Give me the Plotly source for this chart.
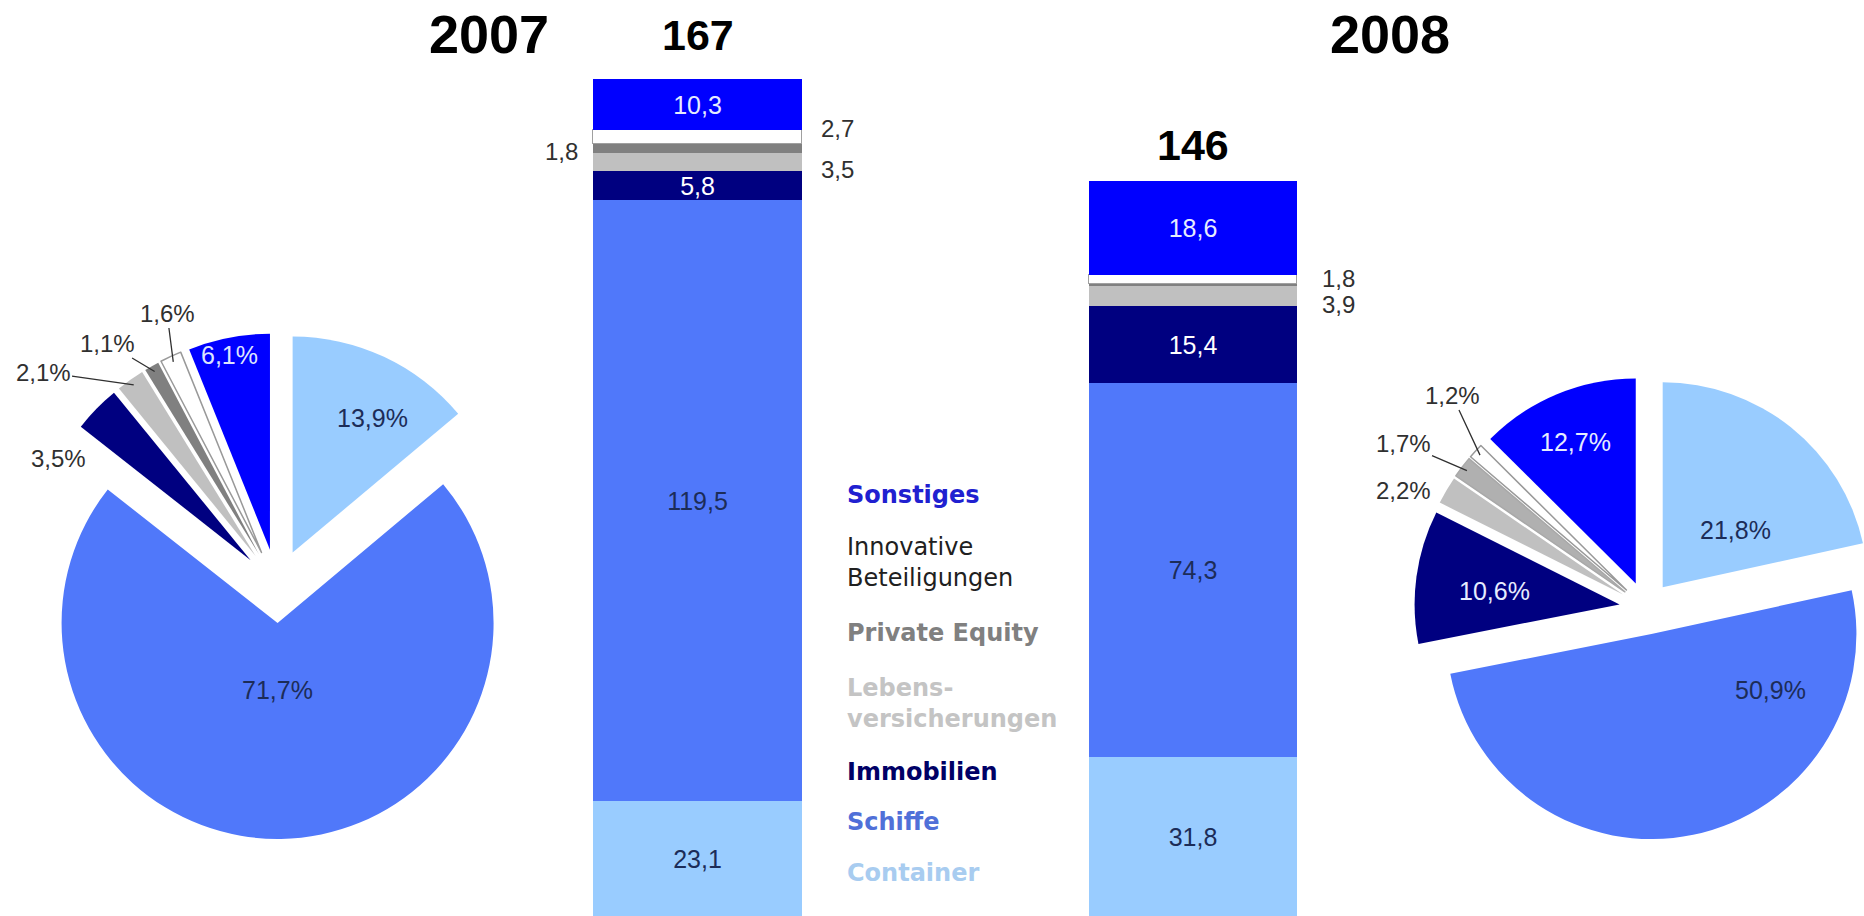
import math
import plotly.graph_objects as go

# ---------------- data ----------------
years = ["2007", "2008"]
categories = ["Container", "Schiffe", "Immobilien", "Lebensversicherungen",
              "Private Equity", "Innovative Beteiligungen", "Sonstiges"]
legend_labels = ["Container", "Schiffe", "Immobilien", "Lebens-<br>versicherungen",
                 "Private Equity", "Innovative<br>Beteiligungen", "Sonstiges"]
# volumes (bar values) per category, [2007, 2008]
vol_container = [23.1, 31.8]
vol_schiffe = [119.5, 74.3]
vol_immobilien = [5.8, 15.4]
vol_leben = [3.5, 3.9]
vol_pe = [1.8, 0.5]
vol_innov = [2.7, 1.8]
vol_sonstiges = [10.3, 18.6]
totals = [167, 146]
# shares (pie values) in percent
share_2007 = [13.9, 71.7, 3.5, 2.1, 1.1, 1.6, 6.1]
share_2008 = [21.8, 50.9, 10.6, 2.2, 1.7, 1.2, 12.7]

# ---------------- style ----------------
colors = ["#99CCFF", "#5078FA", "#000080", "#C0C0C0", "#808080", "#FFFFFF", "#0000FF"]
colors_2008_pie = ["#99CCFF", "#5078FA", "#000080", "#C0C0C0", "#B0B0B0", "#FFFFFF", "#0000FF"]
legend_colors = ["#A8CCF0", "#5070D8", "#000066", "#C4C4C4", "#808080", "#202020", "#2020D0"]
legend_bold = [True, True, True, True, True, False, True]
bar_text_colors = ["#1C2C58", "#1C2C58", "#FFFFFF", None, None, None, "#E6ECFF"]
FONT = "Liberation Sans, Arial, sans-serif"
LFONT = "DejaVu Sans, Verdana, sans-serif"
W, H = 1900, 916

# bar geometry (pixels)
bar_centers_px = [697.5, 1193.0]
bar_width_px = 208.5
px_per_cat = bar_centers_px[1] - bar_centers_px[0]
x0 = -bar_centers_px[0] / px_per_cat
x1 = (W - bar_centers_px[0]) / px_per_cat
px_per_unit = 5.03
y_base_px = 917.0
ylo = (y_base_px - H) / px_per_unit
yhi = ylo + H / px_per_unit

fig = go.Figure()

series = [vol_container, vol_schiffe, vol_immobilien, vol_leben, vol_pe, vol_innov, vol_sonstiges]
for i, (name, vals) in enumerate(zip(categories, series)):
    labelled = bar_text_colors[i] is not None
    fig.add_trace(go.Bar(
        x=[0, 1], y=vals, name=name,
        width=bar_width_px / px_per_cat,
        marker=dict(color=colors[i],
                    line=dict(color="#A0A0A0" if colors[i] == "#FFFFFF" else colors[i],
                              width=1.5 if colors[i] == "#FFFFFF" else 0)),
        texttemplate="%{y:.1f}" if labelled else None,
        textposition="inside" if labelled else "none",
        insidetextanchor="middle",
        textangle=0,
        constraintext="none",
        textfont=dict(family=FONT, size=25, color=bar_text_colors[i] or "#000"),
        showlegend=False, hoverinfo="skip",
    ))

def fmt(v):
    return f"{v:.1f}".replace(".", ",")

def seg_mid(idx, year_i):
    below = sum(s[year_i] for s in series[:idx])
    return below + series[idx][year_i] / 2

annotations = []
# (category index, year index, side, xshift, yshift)
small_labels = [(5, 0, "right", 17, 9), (3, 0, "right", 17, -8), (4, 0, "left", -13, -3),
                (5, 1, "right", 23, 1), (3, 1, "right", 23, -8)]
for ci, yi, side, xs, ys in small_labels:
    annotations.append(dict(
        x=yi + (bar_width_px / px_per_cat / 2) * (1 if side == "right" else -1),
        y=seg_mid(ci, yi), xref="x", yref="y",
        xanchor="left" if side == "right" else "right", yanchor="middle",
        xshift=xs, yshift=ys, showarrow=False, text=fmt(series[ci][yi]),
        font=dict(family=FONT, size=24, color="#303030")))

total_shift = [44, 36]
for yi, t in enumerate(totals):
    stack_top = sum(s[yi] for s in series)
    annotations.append(dict(x=yi, y=stack_top, xref="x", yref="y", xanchor="center",
                            yanchor="middle", yshift=total_shift[yi], showarrow=False,
                            text=f"<b>{t}</b>", font=dict(family=FONT, size=43, color="#000")))

for yr, cx in zip(years, [489, 1390]):
    annotations.append(dict(x=cx / W, y=1 - 34 / H, xref="paper", yref="paper",
                            xanchor="center", yanchor="middle", showarrow=False,
                            text=f"<b>{yr}</b>", font=dict(family=FONT, size=54, color="#000")))

legend_y = [873, 822, 772, 703, 633, 562, 495]
for i in range(len(categories)):
    txt = legend_labels[i]
    if legend_bold[i]:
        txt = "<b>" + txt.replace("<br>", "</b><br><b>") + "</b>"
    annotations.append(dict(x=845 / W, y=1 - legend_y[i] / H, xref="paper", yref="paper",
                            xanchor="left", yanchor="middle", align="left", showarrow=False,
                            text=txt, font=dict(family=LFONT, size=24, color=legend_colors[i])))

# ---------------- pies ----------------
def pie_domain(cx, cy, r, pull):
    half = r * (1 + pull)
    return dict(x=[(cx - half) / W, (cx + half) / W],
                y=[(H - cy - half) / H, (H - cy + half) / H])

# pie geometry: centre (px), radius (px), pull; label placement (px)
pies = [
    dict(vals=share_2007, cols=colors, cx=277, cy=586, r=216, pull=0.171,
         tcol=["#1C2C58", "#1C2C58", "#303030", "#303030", "#303030", "#303030", "#DDE4FF"],
         inside={0: (372, 418), 1: (277, 690), 6: (229, 355)},
         small={2: ((58, 458), False), 3: ((43, 372), True), 4: ((107, 343), True),
                5: ((167, 313), True)}),
    dict(vals=share_2008, cols=colors_2008_pie, cx=1646, cy=608, r=205, pull=0.13,
         tcol=["#1C2C58", "#1C2C58", "#E6ECFF", "#303030", "#303030", "#303030", "#E6ECFF"],
         inside={0: (1735, 530), 1: (1770, 690), 2: (1494, 591), 6: (1575, 442)},
         small={3: ((1403, 490), False), 4: ((1403, 443), True), 5: ((1452, 395), True)}),
]

for p in pies:
    vals, cols = p["vals"], p["cols"]
    fig.add_trace(go.Pie(
        labels=categories, values=vals, sort=False, direction="clockwise", rotation=0,
        pull=[p["pull"]] * len(vals), domain=pie_domain(p["cx"], p["cy"], p["r"], p["pull"]),
        marker=dict(colors=cols,
                    line=dict(color=["#999999" if c == "#FFFFFF" else "#A8A8A8" if c == "#B0B0B0" else c
                                     for c in cols],
                              width=[1.5 if c in ("#FFFFFF", "#B0B0B0") else 0 for c in cols])),
        textinfo="none",
        showlegend=False, hoverinfo="skip",
    ))
    for idx, (lx, ly) in p["inside"].items():
        annotations.append(dict(
            x=lx / W, y=1 - ly / H, xref="paper", yref="paper", showarrow=False,
            xanchor="center", yanchor="middle", text=fmt(vals[idx]) + "%",
            font=dict(family=FONT, size=25, color=p["tcol"][idx])))
    # labels for the thin slices, tied to each slice's outer tip
    total = sum(vals)
    for idx, ((lx, ly), line) in p["small"].items():
        mid = (sum(vals[:idx]) + vals[idx] / 2) / total * 2 * math.pi
        dist = p["r"] * (1 + p["pull"]) - 6
        tx = p["cx"] + dist * math.sin(mid)
        ty = p["cy"] - dist * math.cos(mid)
        annotations.append(dict(
            x=tx / W, y=1 - ty / H, xref="paper", yref="paper",
            ax=lx - tx, ay=ly - ty, axref="pixel", ayref="pixel",
            showarrow=True, arrowhead=0, arrowwidth=1.3,
            arrowcolor="#303030" if line else "rgba(0,0,0,0)",
            standoff=0, startstandoff=0,
            text=fmt(vals[idx]) + "%",
            font=dict(family=FONT, size=24, color=p["tcol"][idx])))

fig.update_layout(
    width=W, height=H, margin=dict(l=0, r=0, t=0, b=0, autoexpand=False),
    paper_bgcolor="white", plot_bgcolor="white",
    separators=",.", barmode="stack", bargap=0,
    xaxis=dict(range=[x0, x1], visible=False, fixedrange=True),
    yaxis=dict(range=[ylo, yhi], visible=False, fixedrange=True),
    annotations=annotations,
)

fig.write_html("out.html", config={"displayModeBar": False, "responsive": False},
               post_script="document.body.style.margin='0';document.body.style.overflow='hidden';")
